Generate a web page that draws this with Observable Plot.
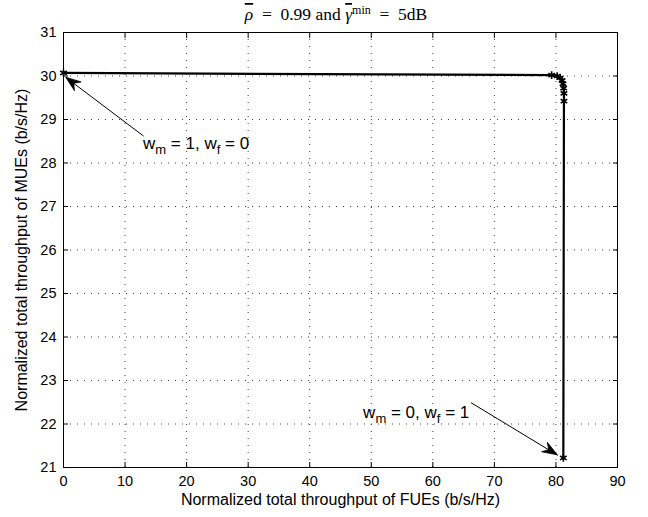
<!DOCTYPE html>
<html>
<head>
<meta charset="utf-8">
<script src="https://cdn.jsdelivr.net/npm/d3@7"></script>
<script src="https://cdn.jsdelivr.net/npm/@observablehq/plot@0.6"></script>
<style>
  body { margin: 0; background: #fff; }
  #chart { position: relative; width: 648px; height: 517px; }
</style>
</head>
<body>
<div id="chart"></div>
<script>
// Throughput trade-off curve: FUE throughput (x) against MUE throughput (y)
const fueThroughput = [0, 79.3, 80.2, 80.7, 81.0, 81.15, 81.25, 81.3, 81.3, 81.2];
const mueThroughput = [30.07, 30.02, 30.0, 29.96, 29.9, 29.82, 29.72, 29.6, 29.42, 21.22];

const xTicks = [0, 10, 20, 30, 40, 50, 60, 70, 80, 90];
const yTicks = [21, 22, 23, 24, 25, 26, 27, 28, 29, 30, 31];

const xLabel = "Normalized total throughput of FUEs (b/s/Hz)";
const yLabel = "Normalized total throughput of MUEs (b/s/Hz)";

// Weight annotations: w_m / w_f values, text anchor, arrow tail and tip (data units)
const noteWm = ["1", "0"];
const noteWf = ["0", "1"];
const noteAnchor = ["start", "end"];
const noteX = [13.0, 66.0];
const noteY = [28.3, 22.12];
const arrowX1 = [13.0, 66.2];
const arrowY1 = [28.62, 22.49];
const arrowX2 = [0.45, 80.3];
const arrowY2 = [29.96, 21.28];

const curve = fueThroughput.map((x, i) => ({x, y: mueThroughput[i]}));
const arrows = arrowX1.map((x1, i) => ({x1, y1: arrowY1[i], x2: arrowX2[i], y2: arrowY2[i]}));

const font = "'Liberation Sans', Arial, Helvetica, sans-serif";
const gridStyle = {stroke: "#000", strokeOpacity: 0.75, strokeWidth: 1, strokeDasharray: "1,6"};

const svg = Plot.plot({
  width: 648,
  height: 517,
  marginLeft: 63,
  marginRight: 31,
  marginTop: 32,
  marginBottom: 50,
  style: {fontFamily: font, fontSize: "14.5px", background: "#fff", color: "#000"},
  x: {domain: [0, 90]},
  y: {domain: [21, 31]},
  marks: [
    Plot.gridX(xTicks, gridStyle),
    Plot.gridY(yTicks, gridStyle),
    Plot.axisX(xTicks, {anchor: "bottom", tickSize: -5, tickPadding: 13, label: null, fontSize: 14.5}),
    Plot.axisX(xTicks, {anchor: "top", tickSize: -5, tickFormat: () => "", label: null}),
    Plot.axisY(yTicks, {anchor: "left", tickSize: -5, tickPadding: 12, label: null, fontSize: 14.5}),
    Plot.axisY(yTicks, {anchor: "right", tickSize: -5, tickFormat: () => "", label: null}),
    Plot.frame({stroke: "#000", strokeWidth: 1}),
    Plot.text([xLabel], {frameAnchor: "bottom", dy: 37, fontSize: 16}),
    Plot.text([yLabel], {frameAnchor: "left", textAnchor: "middle", rotate: -90, dx: -42, fontSize: 16}),
    Plot.link(arrows, {x1: "x1", y1: "y1", x2: "x2", y2: "y2", stroke: "#000", strokeWidth: 1}),
    Plot.line(curve, {x: "x", y: "y", stroke: "#000", strokeWidth: 2.2}),
    Plot.dot(curve, {x: "x", y: "y", symbol: "asterisk", r: 3.6, stroke: "#000", strokeWidth: 1.6})
  ]
});

const xs = svg.scale("x");
const ys = svg.scale("y");
const root = d3.select(svg);

// Filled arrowheads at the tips of the annotation links
arrows.forEach(a => {
  const px1 = xs.apply(a.x1), py1 = ys.apply(a.y1);
  const px2 = xs.apply(a.x2), py2 = ys.apply(a.y2);
  const ang = Math.atan2(py2 - py1, px2 - px1);
  const L = 15, W = 5.5, N = 10;
  const pt = (along, across) => [
    px2 - along * Math.cos(ang) - across * Math.sin(ang),
    py2 - along * Math.sin(ang) + across * Math.cos(ang)
  ];
  const poly = [[px2, py2], pt(L, W), pt(N, 0), pt(L, -W)];
  root.append("path")
    .attr("d", "M" + poly.map(p => p.join(",")).join("L") + "Z")
    .attr("fill", "#000")
    .attr("stroke", "#000")
    .attr("stroke-width", 0.8);
});

// Annotation labels with subscripts
noteWm.forEach((wm, i) => {
  const t = root.append("text")
    .attr("x", xs.apply(noteX[i]))
    .attr("y", ys.apply(noteY[i]))
    .attr("text-anchor", noteAnchor[i])
    .attr("font-family", font)
    .attr("font-size", 17)
    .attr("fill", "#000");
  t.append("tspan").text("w");
  t.append("tspan").attr("dy", 5).attr("font-size", 13).text("m");
  t.append("tspan").attr("dy", -5).text(` = ${wm}, w`);
  t.append("tspan").attr("dy", 5).attr("font-size", 13).text("f");
  t.append("tspan").attr("dy", -5).text(` = ${noteWf[i]}`);
});

// Title: symbols with overbars, superscript "min"
const title = root.append("text")
  .attr("x", 336)
  .attr("y", 20)
  .attr("text-anchor", "middle")
  .attr("font-family", "'Liberation Serif', 'Times New Roman', serif")
  .attr("font-size", 17.5)
  .attr("fill", "#000")
  .style("white-space", "pre");
title.append("tspan").attr("font-style", "italic").style("text-decoration", "overline").text("\u03C1");
title.append("tspan").text("  =  0.99 and ");
title.append("tspan").attr("font-style", "italic").style("text-decoration", "overline").text("\u03B3");
title.append("tspan").attr("dy", -6).attr("font-size", 12).text("min");
title.append("tspan").attr("dy", 6).text("  =  5dB");

document.getElementById("chart").appendChild(svg);
</script>
</body>
</html>
